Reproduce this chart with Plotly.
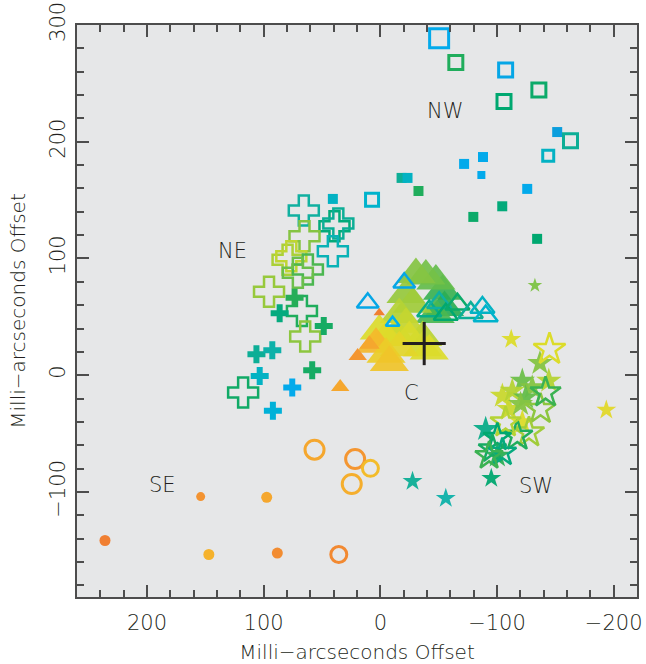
import plotly.graph_objects as go

# ---------------- data (offsets in milli-arcseconds, v = normalised velocity colour) -------------
# NW : squares
nw_open_x = [-50.4, -64.7, -107.4, -135.9, -106.0, -163.0, -143.9, 7.1]
nw_open_y = [288.6, 267.8, 261.5, 244.4, 234.5, 200.9, 188.0, 150.4]
nw_open_v = [0.03, 0.36, 0.02, 0.32, 0.30, 0.22, 0.12, 0.10]
nw_fill_x = [-151.6, -88.0, -71.8, -86.6, -18.2, -23.3, -32.7, -125.9, -104.5, -79.7, -134.4, 40.7]
nw_fill_y = [208.3, 186.9, 181.0, 171.5, 169.0, 169.0, 157.8, 159.6, 144.7, 135.6, 116.8, 151.0]
nw_fill_v = [0.00, 0.03, 0.03, 0.03, 0.22, 0.12, 0.36, 0.03, 0.28, 0.32, 0.30, 0.12]

# NE : crosses
ne_open_x = [65.6, 39.3, 36.0, 65.0, 40.7, 79.5, 76.3, 62.1, 70.7, 95.4, 67.2, 64.4, 117.6]
ne_open_y = [141.0, 127.6, 130.0, 119.1, 106.2, 99.0, 102.0, 90.6, 87.8, 71.5, 55.0, 33.1, -14.8]
ne_open_v = [0.20, 0.28, 0.22, 0.52, 0.15, 0.60, 0.64, 0.42, 0.46, 0.56, 0.36, 0.54, 0.33]
ne_fill_x = [73.5, 86.3, 48.5, 106.2, 92.6, 103.4, 58.4, 75.5, 92.1]
ne_fill_y = [66.4, 53.0, 42.1, 17.9, 21.4, -0.6, 4.3, -10.5, -30.5]
ne_fill_v = [0.37, 0.27, 0.34, 0.22, 0.18, 0.12, 0.34, 0.03, 0.08]

# C : triangles
c_fill_x = [-53.3, -47.6, -39.0, -30.5, -55.0, -47.0, -22.0, -27.6, -16.2, -36.2, -22.0,
            -13.4, 0.9, -24.8, -4.9, -36.2, -41.9, -16.2, 3.7, -4.9, -7.7]
c_fill_y = [72.0, 80.6, 84.9, 86.3, 58.0, 52.0, 69.2, 60.7, 52.1, 32.2, 43.6,
            35.0, 37.9, 32.2, 32.2, 23.6, 20.8, 23.6, 26.5, 17.9, 10.9]
c_fill_v = [0.40, 0.45, 0.48, 0.52, 0.38, 0.42, 0.56, 0.58, 0.62, 0.63, 0.65,
            0.67, 0.70, 0.69, 0.71, 0.68, 0.70, 0.73, 0.83, 0.77, 0.80]
c_small_x = [0.9, 19.4, 34.4, 9.4]
c_small_y = [53.6, 16.5, -10.0, 26.5]
c_small_v = [1.00, 0.93, 0.88, 0.88]
c_open_x = [10.8, -20.5, -10.5, -41.9, -50.4, -56.1, -66.1, -77.5, -87.5, -90.3]
c_open_y = [62.1, 79.2, 45.0, 55.0, 62.1, 52.1, 60.7, 53.6, 57.9, 50.7]
c_open_v = [0.02, 0.02, 0.04, 0.25, 0.20, 0.30, 0.32, 0.22, 0.12, 0.10]

# SW : stars
sw_fill_x = [-112.2, -193.7, -95.1, -27.6, -56.1, -132.5, -136.8, -144.4, -121.7, -130.2,
             -104.6, -113.1, -124.5, -110.3, -120.2, -121.7, -90.3, -100.3]
sw_fill_y = [30.8, -29.9, -88.3, -90.9, -105.4, 76.9, 10.3, -4.9, -4.9, -10.5,
             -17.7, -13.4, -19.1, -29.0, -24.8, -40.5, -46.2, -69.0]
sw_fill_v = [0.70, 0.72, 0.30, 0.22, 0.18, 0.50, 0.52, 0.62, 0.46, 0.52,
             0.66, 0.62, 0.45, 0.66, 0.52, 0.70, 0.25, 0.38]
sw_open_x = [-145.0, -137.3, -141.6, -127.4, -117.4, -107.4, -100.3, -96.1, -104.6, -93.2]
sw_open_y = [22.2, -29.0, -14.8, -49.0, -51.9, -40.5, -53.3, -63.2, -66.1, -69.0]
sw_open_v = [0.70, 0.54, 0.40, 0.58, 0.36, 0.62, 0.30, 0.34, 0.27, 0.40]

# SE : circles
se_fill_x = [236.0, 154.0, 97.4, 147.0, 88.3]
se_fill_y = [-141.6, -104.0, -104.6, -153.6, -152.4]
se_fill_v = [1.00, 0.94, 0.88, 0.85, 0.96]
se_open_x = [56.4, 21.6, 8.5, 24.5, 35.6]
se_open_y = [-63.8, -71.8, -79.8, -93.2, -153.6]
se_open_v = [0.88, 0.93, 0.82, 0.86, 0.97]

# reference position (with uncertainty)
ref_x, ref_y, ref_ex, ref_ey = [-37.6], [27.1], [18.5], [18.5]

region_labels = ["NE", "NW", "C", "SE", "SW"]
region_x = [127, -55, -27, 187, -133]
region_y = [106, 226, -15, -94, -95]

# ---------------- styling ----------------
cscale = [[0.00, "#0a9edd"], [0.04, "#00aeef"], [0.10, "#00b3cc"], [0.20, "#10b0a0"],
          [0.30, "#00a870"], [0.38, "#2bae55"], [0.46, "#6cbf4a"], [0.54, "#8dc63f"],
          [0.62, "#b5d334"], [0.70, "#dcdc2a"], [0.78, "#eecb28"], [0.84, "#f5b52b"],
          [0.90, "#f5a030"], [1.00, "#f07f32"]]
FONT = "DejaVu Sans"
INK = "#231f20"


def mk(x, y, v, symbol, size, lw=0, opacity=1.0):
    return go.Scatter(
        x=x, y=y, mode="markers", hoverinfo="skip", showlegend=False,
        marker=dict(symbol=symbol, size=size, color=v, colorscale=cscale, cmin=0, cmax=1,
                    opacity=opacity, line=dict(width=lw)))


fig = go.Figure()
# SE
fig.add_trace(mk(se_fill_x, se_fill_y, se_fill_v, "circle", [11, 9, 11, 11, 11]))
fig.add_trace(mk(se_open_x, se_open_y, se_open_v, "circle-open", [19, 19, 16, 19, 16], lw=3))
# NW
fig.add_trace(mk(nw_fill_x, nw_fill_y, nw_fill_v, "square", [10] * 3 + [8] + [10] * 8))
fig.add_trace(mk(nw_open_x, nw_open_y, nw_open_v, "square-open",
                 [19, 14, 14, 14, 14, 14, 11, 13], lw=3))
# NE
fig.add_trace(mk(ne_open_x, ne_open_y, ne_open_v, "cross-open", 25, lw=2.5))
fig.add_trace(mk(ne_fill_x, ne_fill_y, ne_fill_v, "cross", 15))
# C
fig.add_trace(mk(c_fill_x, c_fill_y, c_fill_v, "triangle-up", 34, opacity=0.92))
fig.add_trace(mk(c_open_x, c_open_y, c_open_v, "triangle-up-open",
                 [19, 19, 12, 21, 21, 21, 21, 21, 21, 21], lw=2.5))
fig.add_trace(mk(c_small_x, c_small_y, c_small_v, "triangle-up", [10, 16, 16, 18]))
# SW
fig.add_trace(mk(sw_fill_x, sw_fill_y, sw_fill_v, "star",
                 [15, 15, 15, 15, 15, 11] + [19] * 12, opacity=0.95))
fig.add_trace(mk(sw_open_x, sw_open_y, sw_open_v, "star-open",
                 [24, 23, 23, 23, 23, 23, 21, 21, 21, 21], lw=2.5))

# reference cross
fig.add_trace(go.Scatter(
    x=ref_x, y=ref_y, mode="markers", showlegend=False, hoverinfo="skip",
    marker=dict(size=1, color=INK),
    error_x=dict(type="data", array=ref_ex, color=INK, thickness=3, width=0),
    error_y=dict(type="data", array=ref_ey, color=INK, thickness=3, width=0)))

for t, x, y in zip(region_labels, region_x, region_y):
    fig.add_annotation(x=x, y=y, text=t, showarrow=False,
                       font=dict(size=21, color=INK, family=FONT, weight=200))

axis_common = dict(
    showgrid=False, zeroline=False, showline=True, linecolor="#4d4d4d", linewidth=2,
    mirror="ticks", ticks="inside", ticklen=12, tickwidth=1.5, tickcolor="#4d4d4d",
    dtick=100, minor=dict(dtick=20, ticks="inside", ticklen=7, tickwidth=1.5, tickcolor="#4d4d4d"),
    tickfont=dict(size=21, color=INK, family=FONT, weight=200),
    automargin=False, ticklabeloverflow="allow",
)
title_font = dict(size=20, color=INK, family=FONT, weight=200)

fig.update_layout(
    width=646, height=664,
    margin=dict(l=77, r=9, t=25, b=67),
    paper_bgcolor="white", plot_bgcolor="#e6e7e8",
    font=dict(family=FONT, color=INK),
    xaxis=dict(range=[260, -220], tick0=0, ticklabelstandoff=6,
               title=dict(text="Milli\u2212arcseconds Offset", standoff=12, font=title_font),
               **axis_common),
    yaxis=dict(range=[-190, 300], tick0=0, tickangle=-90, ticklabelstandoff=2,
               title=dict(text="Milli\u2212arcseconds Offset", standoff=15, font=title_font),
               **axis_common),
)

# remove the default page margin so the figure fills the window exactly
fig.write_html("out.html", config={"displayModeBar": False},
               post_script="document.body.style.margin='0';document.body.style.overflow='hidden';")
